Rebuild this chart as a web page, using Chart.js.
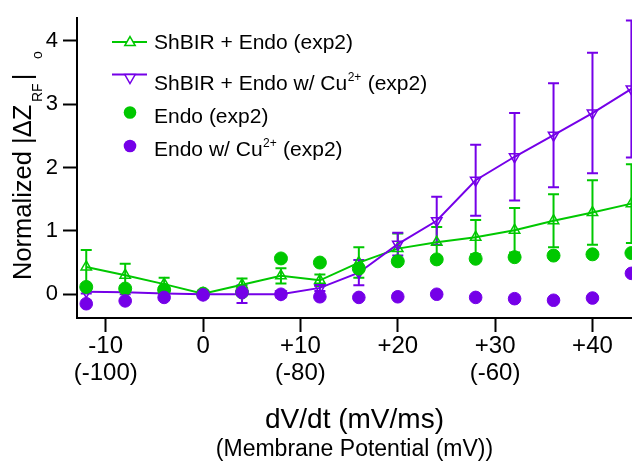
<!DOCTYPE html>
<html>
<head>
<meta charset="utf-8">
<script src="https://cdn.jsdelivr.net/npm/chart.js@4/dist/chart.umd.min.js"></script>
<style>
  html, body { margin: 0; padding: 0; background: #fff; overflow: hidden; }
  #wrap { width: 632px; height: 461px; }
</style>
</head>
<body>
<div id="wrap"><canvas id="c" width="632" height="461"></canvas></div>
<script>
// dV/dt steps (mV/ms)
const rateValues = [-12, -8, -4, 0, 4, 8, 12, 16, 20, 24, 28, 32, 36, 40, 44];

// ShBIR + Endo (exp2): mean and error
const shbirEndo    = [0.43, 0.30, 0.16, 0.01, 0.15, 0.29, 0.22, 0.50, 0.72, 0.82, 0.90, 1.01, 1.16, 1.29, 1.43];
const shbirEndoErr = [0.27, 0.18, 0.10, 0.03, 0.10, 0.12, 0.09, 0.24, 0.24, 0.24, 0.27, 0.35, 0.42, 0.51, 0.62];

// ShBIR + Endo w/ Cu2+ (exp2): mean and error
const shbirCu    = [0.04, 0.03, 0.01, 0.00, 0.00, 0.00, 0.10, 0.34, 0.79, 1.16, 1.80, 2.17, 2.51, 2.86, 3.24];
const shbirCuErr = [0.03, 0.03, 0.03, 0.06, 0.14, 0.05, 0.05, 0.20, 0.18, 0.38, 0.56, 0.69, 0.82, 0.95, 1.08];

// Endo alone, without and with Cu2+
const endoOnly = [0.115, 0.09, 0.07, 0.01, 0.03, 0.565, 0.50, 0.405, 0.52, 0.55, 0.56, 0.585, 0.61, 0.63, 0.65];
const endoCu   = [-0.15, -0.105, -0.05, -0.01, 0.03, 0.00, -0.04, -0.05, -0.04, 0.00, -0.05, -0.07, -0.095, -0.06, 0.33];

// axis ticks
const xTickValues    = [-10, 0, 10, 20, 30, 40];
const xTickRate      = ['-10', '0', '+10', '+20', '+30', '+40'];
const xTickPotential = ['(-100)', '', '(-80)', '', '(-60)', ''];
const yTickValues    = [0, 1, 2, 3, 4];

const GREEN = '#00c800';
const PURPLE = '#7500e8';
const FONT = '"Liberation Sans", Arial, Helvetica, sans-serif';

const toPoints = ys => rateValues.map((x, i) => ({ x: x, y: ys[i] }));

// vertical error bars with caps, drawn beneath the markers
const errorBarPlugin = {
  id: 'errorBars',
  beforeDatasetsDraw(chart) {
    const ctx = chart.ctx;
    const xs = chart.scales.x, ys = chart.scales.y;
    chart.data.datasets.forEach(ds => {
      if (!ds.errors) return;
      ctx.save();
      ctx.strokeStyle = ds.borderColor;
      ctx.lineWidth = 2;
      ds.data.forEach((p, j) => {
        const e = ds.errors[j];
        const px = xs.getPixelForValue(p.x);
        const top = ys.getPixelForValue(p.y + e);
        const bot = ys.getPixelForValue(p.y - e);
        ctx.beginPath();
        ctx.moveTo(px, top); ctx.lineTo(px, bot);
        ctx.moveTo(px - 5.5, top); ctx.lineTo(px + 5.5, top);
        ctx.moveTo(px - 5.5, bot); ctx.lineTo(px + 5.5, bot);
        ctx.stroke();
      });
      ctx.restore();
    });
  }
};

// axis titles (with sub/superscripts) and the legend
const annotationPlugin = {
  id: 'annotations',
  afterDraw(chart) {
    const ctx = chart.ctx;
    const area = chart.chartArea;
    ctx.save();
    ctx.fillStyle = '#000';
    ctx.textBaseline = 'alphabetic';

    // x axis title, two lines
    const cx = (area.left + area.right) / 2;
    ctx.textAlign = 'center';
    ctx.font = '28px ' + FONT;
    ctx.fillText('dV/dt (mV/ms)', cx, 428);
    ctx.font = '23px ' + FONT;
    ctx.fillText('(Membrane Potential (mV))', cx, 456);

    // y axis title, rotated
    ctx.save();
    ctx.translate(30.5, 280);
    ctx.rotate(-Math.PI / 2);
    ctx.textAlign = 'left';
    ctx.font = '25.5px ' + FONT;
    ctx.fillText('Normalized |\u0394Z', 0, 0);
    ctx.font = '14px ' + FONT;
    ctx.fillText('RF', 178, 11);
    ctx.font = '25.5px ' + FONT;
    ctx.textAlign = 'center';
    ctx.fillText('|', 203, 0);
    ctx.textAlign = 'left';
    ctx.font = '14px ' + FONT;
    ctx.fillText('o', 221, 11);
    ctx.restore();

    // legend
    const tri = (x, y, r, down, color) => {
      ctx.save();
      ctx.translate(x, y);
      if (down) ctx.rotate(Math.PI);
      ctx.beginPath();
      ctx.moveTo(0, -r);
      ctx.lineTo(r * Math.sin(2 * Math.PI / 3), -r * Math.cos(2 * Math.PI / 3));
      ctx.lineTo(r * Math.sin(4 * Math.PI / 3), -r * Math.cos(4 * Math.PI / 3));
      ctx.closePath();
      ctx.fillStyle = '#fff';
      ctx.fill();
      ctx.strokeStyle = color;
      ctx.lineWidth = 1.5;
      ctx.stroke();
      ctx.restore();
    };
    const seg = (y, color) => {
      ctx.strokeStyle = color;
      ctx.lineWidth = 2;
      ctx.beginPath();
      ctx.moveTo(112, y); ctx.lineTo(147, y);
      ctx.stroke();
    };
    const dot = (y, color) => {
      ctx.fillStyle = color;
      ctx.beginPath();
      ctx.arc(130, y, 6.3, 0, Math.PI * 2);
      ctx.fill();
    };
    const tx = 154;
    ctx.textAlign = 'left';

    seg(42, GREEN);
    tri(130, 42.5, 6, false, GREEN);
    ctx.fillStyle = '#000';
    ctx.font = '21px ' + FONT;
    ctx.fillText('ShBIR + Endo (exp2)', tx, 49);

    seg(74.5, PURPLE);
    tri(130, 77.5, 6, true, PURPLE);
    ctx.fillStyle = '#000';
    ctx.font = '21px ' + FONT;
    let s1 = 'ShBIR + Endo w/ Cu';
    ctx.fillText(s1, tx, 90);
    let w = ctx.measureText(s1).width;
    ctx.font = '12px ' + FONT;
    ctx.fillText('2+', tx + w + 0.5, 81);
    let w2 = ctx.measureText('2+').width;
    ctx.font = '21px ' + FONT;
    ctx.fillText(' (exp2)', tx + w + w2 + 1, 90);

    dot(112.5, GREEN);
    ctx.fillStyle = '#000';
    ctx.fillText('Endo (exp2)', tx, 122.5);

    dot(146, PURPLE);
    ctx.fillStyle = '#000';
    let s4 = 'Endo w/ Cu';
    ctx.fillText(s4, tx, 156);
    w = ctx.measureText(s4).width;
    ctx.font = '12px ' + FONT;
    ctx.fillText('2+', tx + w + 0.5, 147);
    w2 = ctx.measureText('2+').width;
    ctx.font = '21px ' + FONT;
    ctx.fillText(' (exp2)', tx + w + w2 + 1, 156);

    ctx.restore();
  }
};

new Chart(document.getElementById('c'), {
  type: 'line',
  data: {
    datasets: [
      {
        label: 'ShBIR + Endo (exp2)',
        data: toPoints(shbirEndo),
        errors: shbirEndoErr,
        borderColor: GREEN,
        borderWidth: 2,
        pointStyle: 'triangle',
        pointRadius: 6,
        pointBorderWidth: 1.5,
        pointBorderColor: GREEN,
        pointBackgroundColor: 'rgba(0,0,0,0)',
        fill: false,
        tension: 0,
        clip: false,
        order: 4
      },
      {
        label: 'ShBIR + Endo w/ Cu2+ (exp2)',
        data: toPoints(shbirCu),
        errors: shbirCuErr,
        borderColor: PURPLE,
        borderWidth: 2,
        pointStyle: 'triangle',
        pointRotation: 180,
        pointRadius: 6,
        pointBorderWidth: 1.5,
        pointBorderColor: PURPLE,
        pointBackgroundColor: 'rgba(0,0,0,0)',
        fill: false,
        tension: 0,
        clip: false,
        order: 3
      },
      {
        label: 'Endo (exp2)',
        data: toPoints(endoOnly),
        showLine: false,
        borderColor: GREEN,
        pointStyle: 'circle',
        pointRadius: 6.5,
        pointBorderWidth: 1,
        pointBorderColor: GREEN,
        pointBackgroundColor: GREEN,
        clip: false,
        order: 2
      },
      {
        label: 'Endo w/ Cu2+ (exp2)',
        data: toPoints(endoCu),
        showLine: false,
        borderColor: PURPLE,
        pointStyle: 'circle',
        pointRadius: 6.3,
        pointBorderWidth: 1,
        pointBorderColor: PURPLE,
        pointBackgroundColor: PURPLE,
        clip: false,
        order: 1
      }
    ]
  },
  options: {
    responsive: false,
    animation: false,
    devicePixelRatio: 1,
    layout: { autoPadding: false, padding: { top: 18, left: 0, right: 0, bottom: 0 } },
    plugins: { legend: { display: false }, tooltip: { enabled: false } },
    scales: {
      x: {
        type: 'linear',
        min: -12.95,
        max: 44.06,
        afterBuildTicks: s => { s.ticks = xTickValues.map(v => ({ value: v })); },
        ticks: {
          autoSkip: false,
          maxRotation: 0,
          color: '#000',
          padding: 1,
          font: { family: FONT, size: 24, lineHeight: '27px' },
          callback: v => {
            const i = xTickValues.indexOf(v);
            return xTickPotential[i] ? [xTickRate[i], xTickPotential[i]] : xTickRate[i];
          }
        },
        grid: { drawOnChartArea: false, drawTicks: true, tickLength: 14, tickWidth: 2, tickColor: '#000' },
        border: { display: true, color: '#000', width: 2 },
        afterFit: s => { s.height = 143; s.paddingLeft = 0; s.paddingRight = 0; }
      },
      y: {
        type: 'linear',
        min: -0.375,
        max: 4.36,
        afterBuildTicks: s => { s.ticks = yTickValues.map(v => ({ value: v })); },
        ticks: {
          color: '#000',
          padding: 5,
          font: { family: FONT, size: 22 },
          callback: v => String(v)
        },
        grid: { drawOnChartArea: false, drawTicks: true, tickLength: 14, tickWidth: 2, tickColor: '#000' },
        border: { display: true, color: '#000', width: 2 },
        afterFit: s => { s.width = 77; s.paddingTop = 0; s.paddingBottom = 0; }
      }
    }
  },
  plugins: [errorBarPlugin, annotationPlugin]
});
</script>
</body>
</html>
